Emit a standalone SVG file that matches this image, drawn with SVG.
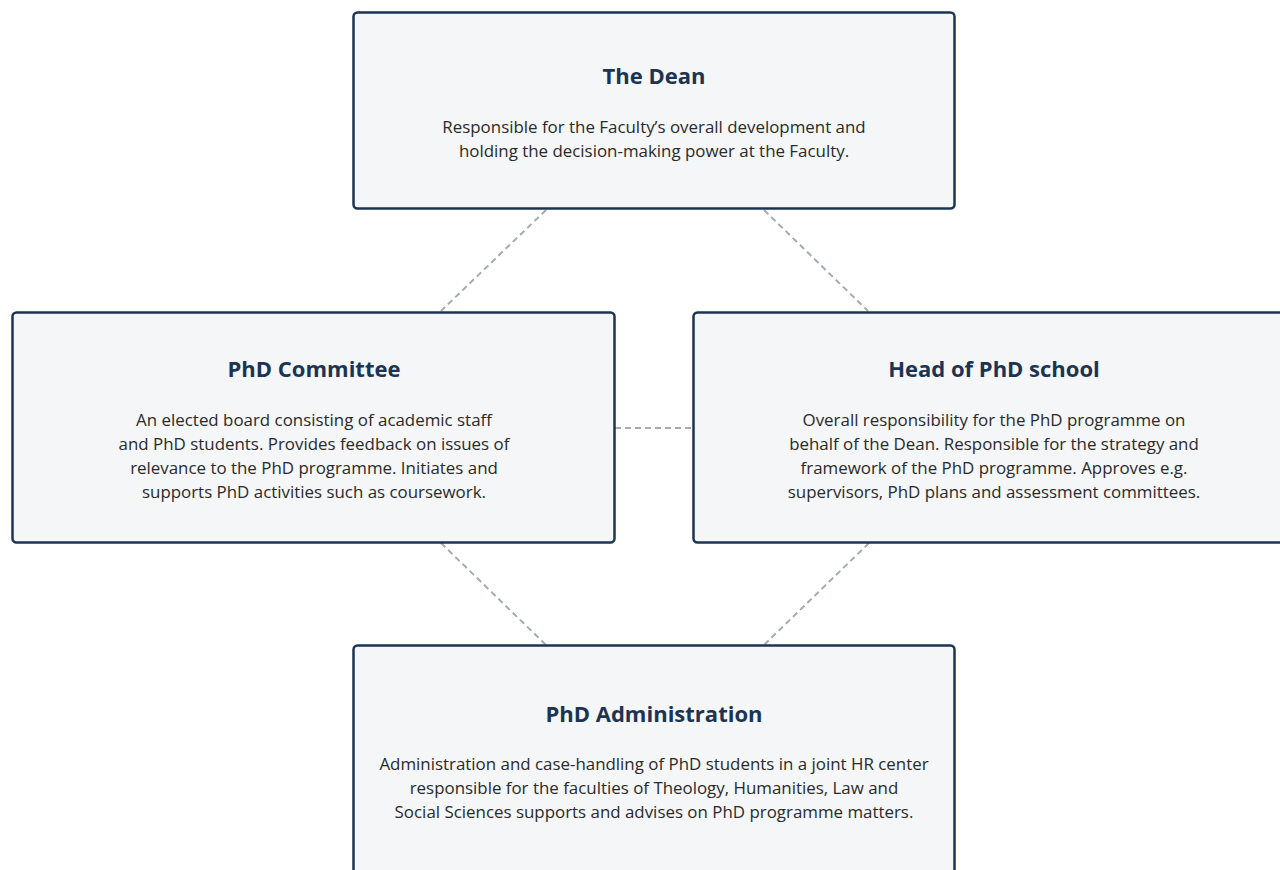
<svg xmlns="http://www.w3.org/2000/svg" width="1280" height="870" viewBox="0 0 1280 870">
<style>
.box{fill:#f4f6f8;stroke:#1c3453;stroke-width:2.5}
.title{font-family:"Open Sans","Noto Sans",sans-serif;font-weight:700;font-size:22px;fill:#1c3453;text-anchor:middle}
.body{font-family:"Open Sans","Noto Sans",sans-serif;font-size:16.9px;fill:#2a2a2a;text-anchor:middle}
.link{stroke:#a4abb6;stroke-width:2;stroke-dasharray:6 4;fill:none}
</style>
<rect width="1280" height="870" fill="#ffffff"/>
<g id="connectors">
<line class="link" x1="546" y1="210" x2="441" y2="311"/>
<line class="link" x1="764" y1="210" x2="868" y2="311"/>
<line class="link" x1="615" y1="428" x2="693" y2="428"/>
<line class="link" x1="441" y1="543" x2="546" y2="645"/>
<line class="link" x1="869" y1="543" x2="764" y2="645"/>
</g>
<g id="dean">
<rect class="box" x="353.5" y="12.5" width="601" height="196" rx="4"/>
<text class="title" x="654" y="84">The Dean</text>
<text class="body" x="654" y="133">Responsible for the Faculty’s overall development and</text>
<text class="body" x="654" y="157">holding the decision-making power at the Faculty.</text>
</g>
<g id="phd-committee">
<rect class="box" x="12.5" y="312.5" width="602" height="230" rx="4"/>
<text class="title" x="314" y="377">PhD Committee</text>
<text class="body" x="314" y="426">An elected board consisting of academic staff</text>
<text class="body" x="314" y="450">and PhD students. Provides feedback on issues of</text>
<text class="body" x="314" y="474">relevance to the PhD programme. Initiates and</text>
<text class="body" x="314" y="498">supports PhD activities such as coursework.</text>
</g>
<g id="head-of-phd-school">
<rect class="box" x="693.5" y="312.5" width="602" height="230" rx="4"/>
<text class="title" x="994" y="377">Head of PhD school</text>
<text class="body" x="994" y="426">Overall responsibility for the PhD programme on</text>
<text class="body" x="994" y="450">behalf of the Dean. Responsible for the strategy and</text>
<text class="body" x="994" y="474">framework of the PhD programme. Approves e.g.</text>
<text class="body" x="994" y="498">supervisors, PhD plans and assessment committees.</text>
</g>
<g id="phd-administration">
<rect class="box" x="353.5" y="645.5" width="601" height="240" rx="4"/>
<text class="title" x="654" y="722">PhD Administration</text>
<text class="body" x="654" y="770">Administration and case-handling of PhD students in a joint HR center</text>
<text class="body" x="654" y="794">responsible for the faculties of Theology, Humanities, Law and</text>
<text class="body" x="654" y="818">Social Sciences supports and advises on PhD programme matters.</text>
</g>
</svg>
